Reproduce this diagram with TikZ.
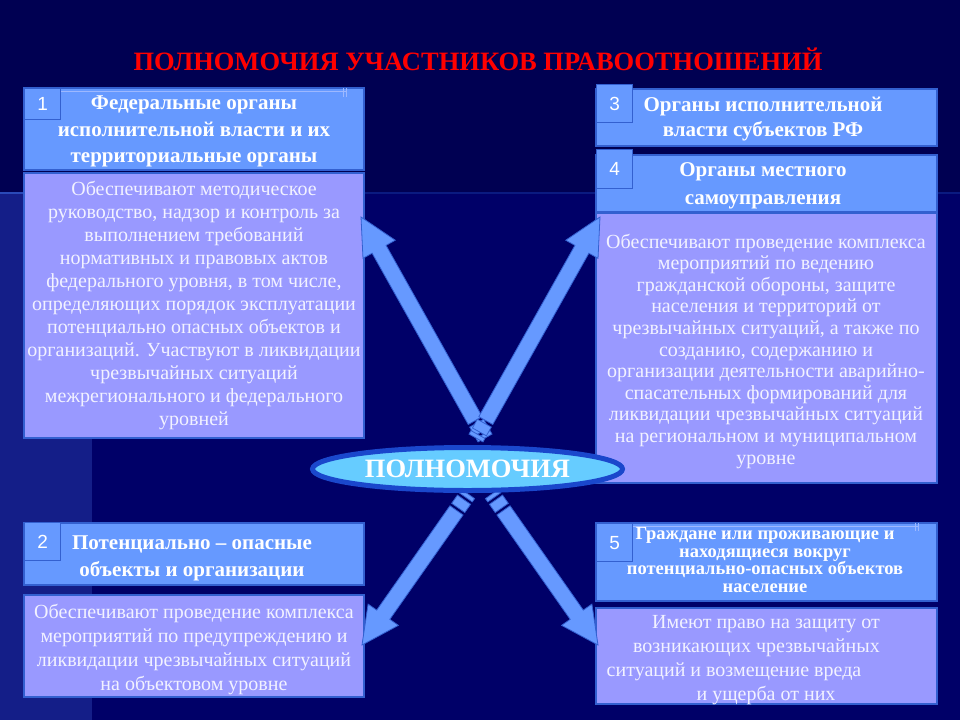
\documentclass[tikz,border=0pt]{standalone}
\usepackage{fontspec}
\setmainfont{Liberation Serif}
\newfontfamily\arialf{Liberation Sans}
\usetikzlibrary{calc,shapes.geometric}
\definecolor{bgtop}{HTML}{000052}
\definecolor{bgmain}{HTML}{000068}
\definecolor{bgleft}{HTML}{141E88}
\definecolor{bgline}{HTML}{2A4AB8}
\definecolor{bgfaint}{HTML}{0A1A80}
\definecolor{hdr}{HTML}{6699FF}
\definecolor{bdy}{HTML}{9999FF}
\definecolor{edge}{HTML}{3360D0}
\definecolor{ringc}{HTML}{1A47CC}
\definecolor{ellc}{HTML}{66CCFF}
\definecolor{titlec}{HTML}{FF0000}
\definecolor{txtc}{HTML}{F2F2FF}
\definecolor{bevel}{HTML}{9DB8FF}
\tikzset{
  hdrbox/.style={draw=edge, line width=1.3pt, fill=hdr, inner sep=0pt, outer sep=0pt},
  bodybox/.style={draw=edge, line width=1.3pt, fill=bdy, inner sep=0pt, outer sep=0pt},
  numbox/.style={draw=edge, line width=1.1pt, fill=hdr, anchor=north west, inner sep=0pt,
    minimum width=36pt, text=white, font=\arialf\fontsize{19pt}{19pt}\selectfont},
  hdrtext/.style={text=white, align=center, inner sep=0pt,
    font=\bfseries\fontsize{21pt}{26.5pt}\selectfont},
  bodytext/.style={text=txtc, align=center, inner sep=0pt,
    font=\fontsize{20pt}{23pt}\selectfont},
  arrowbody/.style={draw=edge, line width=0.8pt, fill=hdr, line join=miter},
  bevelline/.style={draw=bevel, line width=0.5pt}
}
\newcommand\stripedarrow[2]{%
  \path[arrowbody] let \p1=(#1), \p2=(#2),
    \n1={atan2(\y2-\y1,\x2-\x1)}, \n2={veclen(\x2-\x1,\y2-\y1)} in
    [shift={(\p1)}, rotate=\n1]
    (0pt,-8pt) rectangle (4pt,8pt)
    (7pt,-8pt) rectangle (17pt,8pt)
    (20pt,-8pt) -- (\n2-37pt,-8pt) -- (\n2-37pt,-18.5pt) -- (\n2,0pt)
    -- (\n2-37pt,18.5pt) -- (\n2-37pt,8pt) -- (20pt,8pt) -- cycle;
}
\begin{document}
\begin{tikzpicture}[x=1pt,y=-1pt]
\useasboundingbox (0,0) rectangle (960,720);
% background
\fill[bgmain] (0,0) rectangle (960,720);
\fill[bgtop] (0,0) rectangle (960,193);
\fill[bgleft] (0,193) rectangle (92,720);
\draw[bgfaint, line width=1.2pt] (92,193) -- (960,193);
\draw[bgline, line width=1.5pt] (0,193) -- (92,193);

% title
\node[text=titlec, font=\bfseries\fontsize{26.5pt}{26.5pt}\selectfont, anchor=base, inner sep=0pt]
  (title) at (478,70) {ПОЛНОМОЧИЯ УЧАСТНИКОВ ПРАВООТНОШЕНИЙ};

% arrow end points
\coordinate (ul0) at (485,438); \coordinate (ul1) at (361,217);
\coordinate (ur0) at (476,438); \coordinate (ur1) at (600,217);
\coordinate (ll0) at (468,494); \coordinate (ll1) at (362,645);
\coordinate (lr0) at (492,494); \coordinate (lr1) at (598,645);

% boxes
\node[hdrbox, minimum width=340pt, minimum height=82pt] (h1) at (194,129) {};
\node[bodybox, minimum width=340pt, minimum height=265pt] (b1) at (194,305.5) {};
\node[hdrbox, minimum width=341pt, minimum height=57pt] (h3) at (766.5,117.5) {};
\node[hdrbox, minimum width=341pt, minimum height=57pt] (h4) at (766.5,183.5) {};
\node[bodybox, minimum width=341pt, minimum height=270pt] (b4) at (766.5,348) {};
\node[hdrbox, minimum width=340pt, minimum height=62pt] (h2) at (194,554) {};
\node[bodybox, minimum width=340pt, minimum height=102pt] (b2) at (194,646) {};
\node[hdrbox, minimum width=341pt, minimum height=78pt] (h5) at (766.5,562) {};
\node[bodybox, minimum width=341pt, minimum height=96pt] (b5) at (766.5,656) {};

\stripedarrow{ul0}{ul1}
\stripedarrow{ur0}{ur1}
\stripedarrow{ll0}{ll1}
\stripedarrow{lr0}{lr1}

% bevel artifacts
\draw[bevelline] (60,91) -- (346,91) (343,88) -- (343,97) (346,88) -- (346,97);
\draw[bevelline] (632,526) -- (918,526) (915,523) -- (915,531) (918,523) -- (918,531);

% header texts
\node[hdrtext] (t1) at (194,131.5) {Федеральные органы\\исполнительной власти и их\\территориальные органы};
\node[hdrtext, font=\bfseries\fontsize{21pt}{25pt}\selectfont] (t3) at (763,119.5) {Органы исполнительной\\власти субъектов РФ};
\node[hdrtext, font=\bfseries\fontsize{21pt}{28pt}\selectfont] (t4) at (763,186) {Органы местного\\самоуправления};
\node[hdrtext, font=\bfseries\fontsize{21pt}{27pt}\selectfont] (t2) at (192,558.5) {Потенциально – опасные\\объекты и организации};
\node[hdrtext, font=\bfseries\fontsize{18.5pt}{17.8pt}\selectfont] (t5) at (765,560)
  {Граждане или проживающие и\\находящиеся вокруг\\потенциально-опасных объектов\\население};

% number squares
\node[numbox, minimum height=31pt] (s1) at (24,88) {1};
\node[numbox, minimum height=38pt] (s3) at (596,84) {3};
\node[numbox, minimum height=39pt] (s4) at (596,149) {4};
\node[numbox, minimum height=38pt] (s2) at (24,522) {2};
\node[numbox, minimum height=38pt] (s5) at (596,523) {5};

% body texts
\node[bodytext] (bt1) at (194,305.5) {Обеспечивают методическое\\руководство, надзор и контроль за\\выполнением требований\\нормативных и правовых актов\\федерального уровня, в том числе,\\определяющих порядок эксплуатации\\потенциально опасных объектов и\\организаций. Участвуют в ликвидации\\чрезвычайных ситуаций\\межрегионального и федерального\\уровней};
\node[bodytext, font=\fontsize{20pt}{21.6pt}\selectfont] (bt4) at (766,351) {Обеспечивают проведение комплекса\\мероприятий по ведению\\гражданской обороны, защите\\населения и территорий от\\чрезвычайных ситуаций, а также по\\созданию, содержанию и\\организации деятельности аварийно-\\спасательных формирований для\\ликвидации чрезвычайных ситуаций\\на региональном и муниципальном\\уровне};
\node[bodytext, font=\fontsize{20pt}{24pt}\selectfont] (bt2) at (194,649) {Обеспечивают проведение комплекса\\мероприятий по предупреждению и\\ликвидации чрезвычайных ситуаций\\на объектовом уровне};
\node[bodytext, font=\fontsize{20pt}{24pt}\selectfont] (bt5) at (766,660) {Имеют право на защиту от\\возникающих чрезвычайных\rule{19pt}{0pt}\\ситуаций и возмещение вреда\rule{64pt}{0pt}\\и ущерба от них};

% center ellipse
\node[ellipse, draw=ringc, line width=5pt, fill=ellc, minimum width=310pt, minimum height=43pt,
  inner sep=0pt, text=white, font=\bfseries\fontsize{26.5pt}{26.5pt}\selectfont] (core) at (467.5,469) {ПОЛНОМОЧИЯ};
\end{tikzpicture}
\end{document}
